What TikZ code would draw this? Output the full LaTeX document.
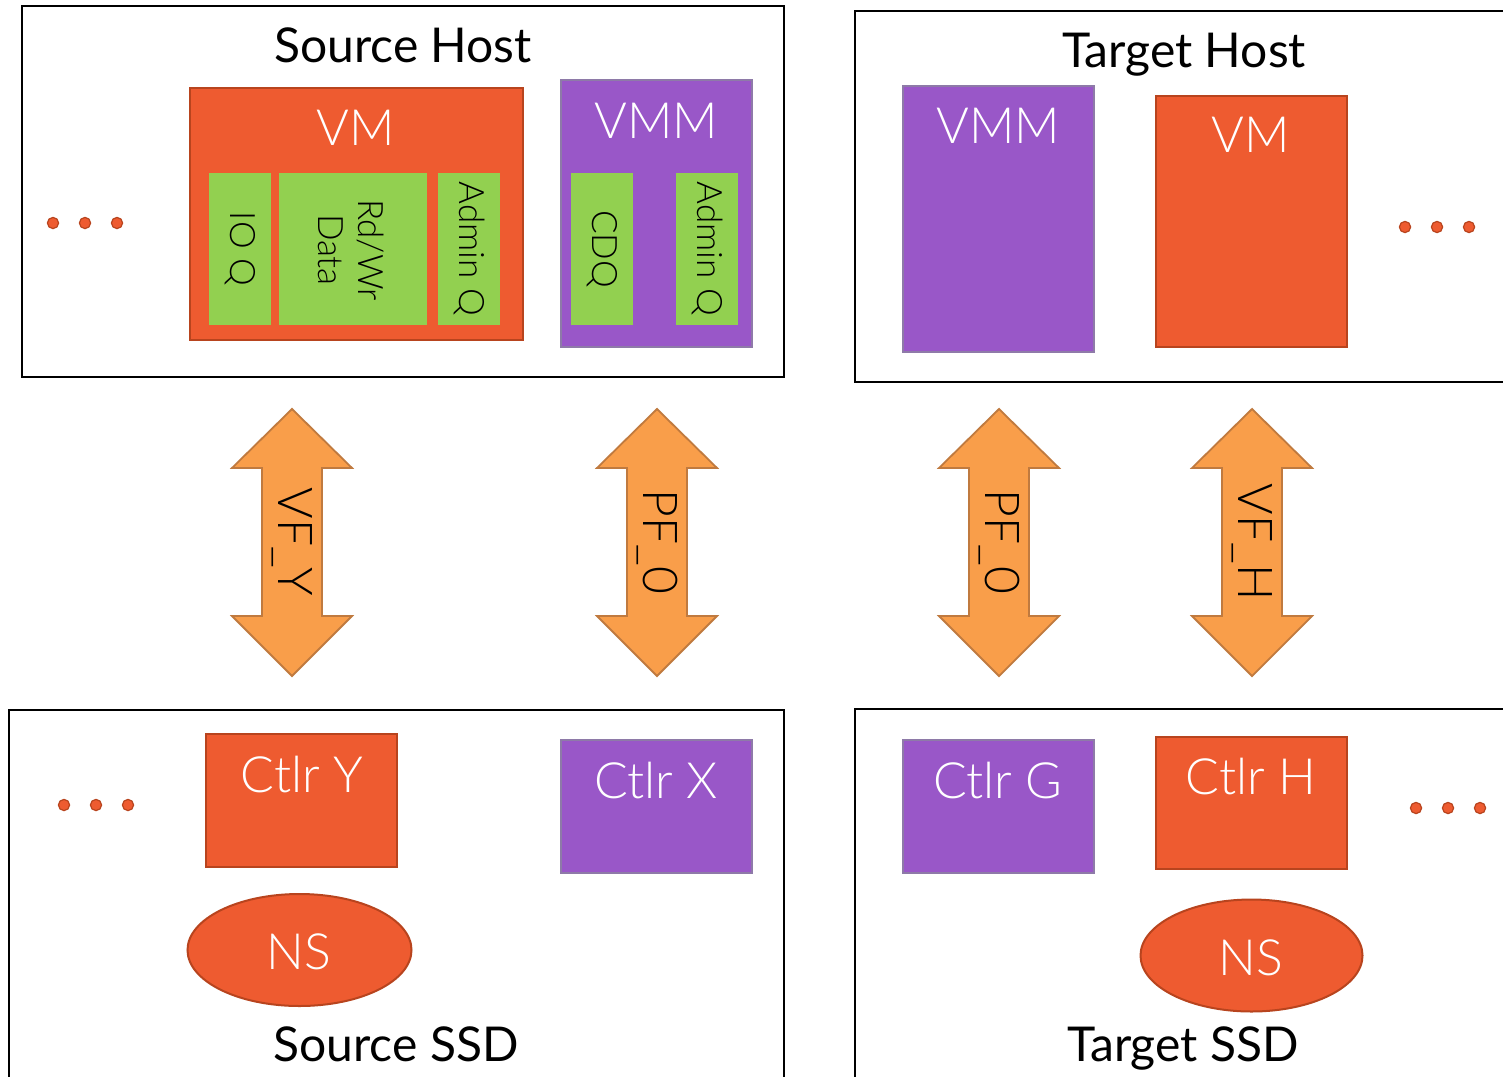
\documentclass[tikz,border=0pt]{standalone}
\usepackage{fontspec}
\setmainfont{Lato}[UprightFont = * Light]
\newfontfamily\titlefont{Lato}
\usetikzlibrary{shapes.geometric}
\definecolor{vmfill}{RGB}{238,91,48}
\definecolor{vmedge}{RGB}{184,68,30}
\definecolor{vmmfill}{RGB}{153,87,200}
\definecolor{vmmedge}{RGB}{142,122,168}
\definecolor{qgreen}{RGB}{146,208,80}
\definecolor{arrfill}{RGB}{249,158,74}
\definecolor{arredge}{RGB}{192,122,63}
\tikzset{
  hostbox/.style={draw=black, line width=1.3pt},
  orangebox/.style={draw=vmedge, fill=vmfill, line width=1pt, inner sep=0pt},
  purplebox/.style={draw=vmmedge, fill=vmmfill, line width=1pt, inner sep=0pt},
  queuebox/.style={fill=qgreen, inner sep=0pt, minimum height=76pt},
  nsbox/.style={ellipse, draw=vmedge, fill=vmfill, line width=1pt, inner sep=0pt},
  dotmark/.style={circle, draw=vmedge, fill=vmfill, line width=0.6pt, inner sep=0pt, minimum size=5.6pt},
  bigarrow/.style={draw=arredge, fill=arrfill, line width=0.9pt, line join=miter},
  title/.style={font=\titlefont\fontsize{24}{28}\selectfont, anchor=base, inner sep=0pt},
  whitelabel/.style={font=\fontsize{25}{28}\selectfont, text=white, anchor=base, inner sep=0pt},
  qlabel/.style={font=\fontsize{17.5}{20}\selectfont, rotate=-90, inner sep=0pt, align=center},
  arrlabel/.style={font=\fontsize{24}{28}\selectfont, rotate=-90, inner sep=0pt},
}
% double-headed vertical block arrow centred on x = #1 (pixel units)
\newcommand{\vbiarrow}[1]{%
  \draw[bigarrow] (#1,409) -- (#1+60,468) -- (#1+30,468) -- (#1+30,616) -- (#1+60,616)
    -- (#1,676) -- (#1-60,616) -- (#1-30,616) -- (#1-30,468) -- (#1-60,468) -- cycle;}
\begin{document}
\begin{tikzpicture}[x=0.5pt, y=-0.5pt]
  \path[use as bounding box, clip] (0,0) rectangle (1503,1076);
  \fill[white] (0,0) rectangle (1503,1076);

  % ---------------- Source host ----------------
  \draw[hostbox] (22,6) rectangle (784,377);
  \node[title] (srchost) at (403,62) {Source Host};

  \node[orangebox, minimum width=166.5pt, minimum height=126pt] (srcvm) at (356.5,214) {};
  \node[whitelabel] (srcvmlbl) at (356,145) {VM};
  \node[queuebox, minimum width=31pt] (ioq) at (240,249) {};
  \node[queuebox, minimum width=74pt] (rdwr) at (353,249) {};
  \node[queuebox, minimum width=31pt] (vmadmq) at (469,249) {};
  \node[qlabel] at (ioq) {IO Q};
  \node[qlabel] at (351,250) {Rd/Wr\\Data};
  \node[qlabel] at (vmadmq) {Admin Q};

  \node[purplebox, minimum width=95.5pt, minimum height=133.5pt] (srcvmm) at (656.5,213.5) {};
  \node[whitelabel] (srcvmmlbl) at (656,138) {VMM};
  \node[queuebox, minimum width=31pt] (cdq) at (602,249) {};
  \node[queuebox, minimum width=31pt] (vmmadmq) at (707,249) {};
  \node[qlabel] at (cdq) {CDQ};
  \node[qlabel] at (vmmadmq) {Admin Q};

  \node[dotmark] (sd1) at (53,223) {};
  \node[dotmark] (sd2) at (85,223) {};
  \node[dotmark] (sd3) at (117,223) {};

  % ---------------- Target host ----------------
  \draw[hostbox] (855,11) rectangle (1530,382);
  \node[title] (tgthost) at (1184,67) {Target Host};

  \node[purplebox, minimum width=95.5pt, minimum height=133pt] (tgtvmm) at (998.5,219) {};
  \node[whitelabel] (tgtvmmlbl) at (998,143) {VMM};
  \node[orangebox, minimum width=95.5pt, minimum height=125.5pt] (tgtvm) at (1251.5,221.5) {};
  \node[whitelabel] (tgtvmlbl) at (1251,152) {VM};

  \node[dotmark] (td1) at (1405,227) {};
  \node[dotmark] (td2) at (1437,227) {};
  \node[dotmark] (td3) at (1469,227) {};

  % ---------------- Function links ----------------
  \vbiarrow{292}
  \node[arrlabel] (vfy) at (292,542) {VF\_Y};
  \vbiarrow{657}
  \node[arrlabel] (pfsrc) at (657,542) {PF\_0};
  \vbiarrow{999}
  \node[arrlabel] (pftgt) at (999,542) {PF\_0};
  \vbiarrow{1252}
  \node[arrlabel] (vfh) at (1252,542) {VF\_H};

  % ---------------- Source SSD ----------------
  \draw[hostbox] (9,710) rectangle (784,1100);
  \node[orangebox, minimum width=95.5pt, minimum height=66.5pt] (ctly) at (301.5,800.5) {};
  \node[whitelabel] at (302,792) {Ctlr Y};
  \node[purplebox, minimum width=95.5pt, minimum height=66.5pt] (ctlx) at (656.5,806.5) {};
  \node[whitelabel] at (656,798) {Ctlr X};
  \node[nsbox, minimum width=112pt, minimum height=56pt] (srcns) at (299.5,950) {};
  \node[whitelabel] at (299,969) {NS};
  \node[title] (srcssd) at (396,1061) {Source SSD};

  \node[dotmark] (sb1) at (64,805) {};
  \node[dotmark] (sb2) at (96,805) {};
  \node[dotmark] (sb3) at (128,805) {};

  % ---------------- Target SSD ----------------
  \draw[hostbox] (855,709) rectangle (1530,1100);
  \node[purplebox, minimum width=95.5pt, minimum height=66.5pt] (ctlg) at (998.5,806.5) {};
  \node[whitelabel] at (998,798) {Ctlr G};
  \node[orangebox, minimum width=95.5pt, minimum height=66pt] (ctlh) at (1251.5,803) {};
  \node[whitelabel] at (1251,794) {Ctlr H};
  \node[nsbox, minimum width=111pt, minimum height=56pt] (tgtns) at (1251.5,955.5) {};
  \node[whitelabel] at (1251,975) {NS};
  \node[title] (tgtssd) at (1183,1061) {Target SSD};

  \node[dotmark] (tb1) at (1416,808) {};
  \node[dotmark] (tb2) at (1448,808) {};
  \node[dotmark] (tb3) at (1480,808) {};
\end{tikzpicture}
\end{document}
